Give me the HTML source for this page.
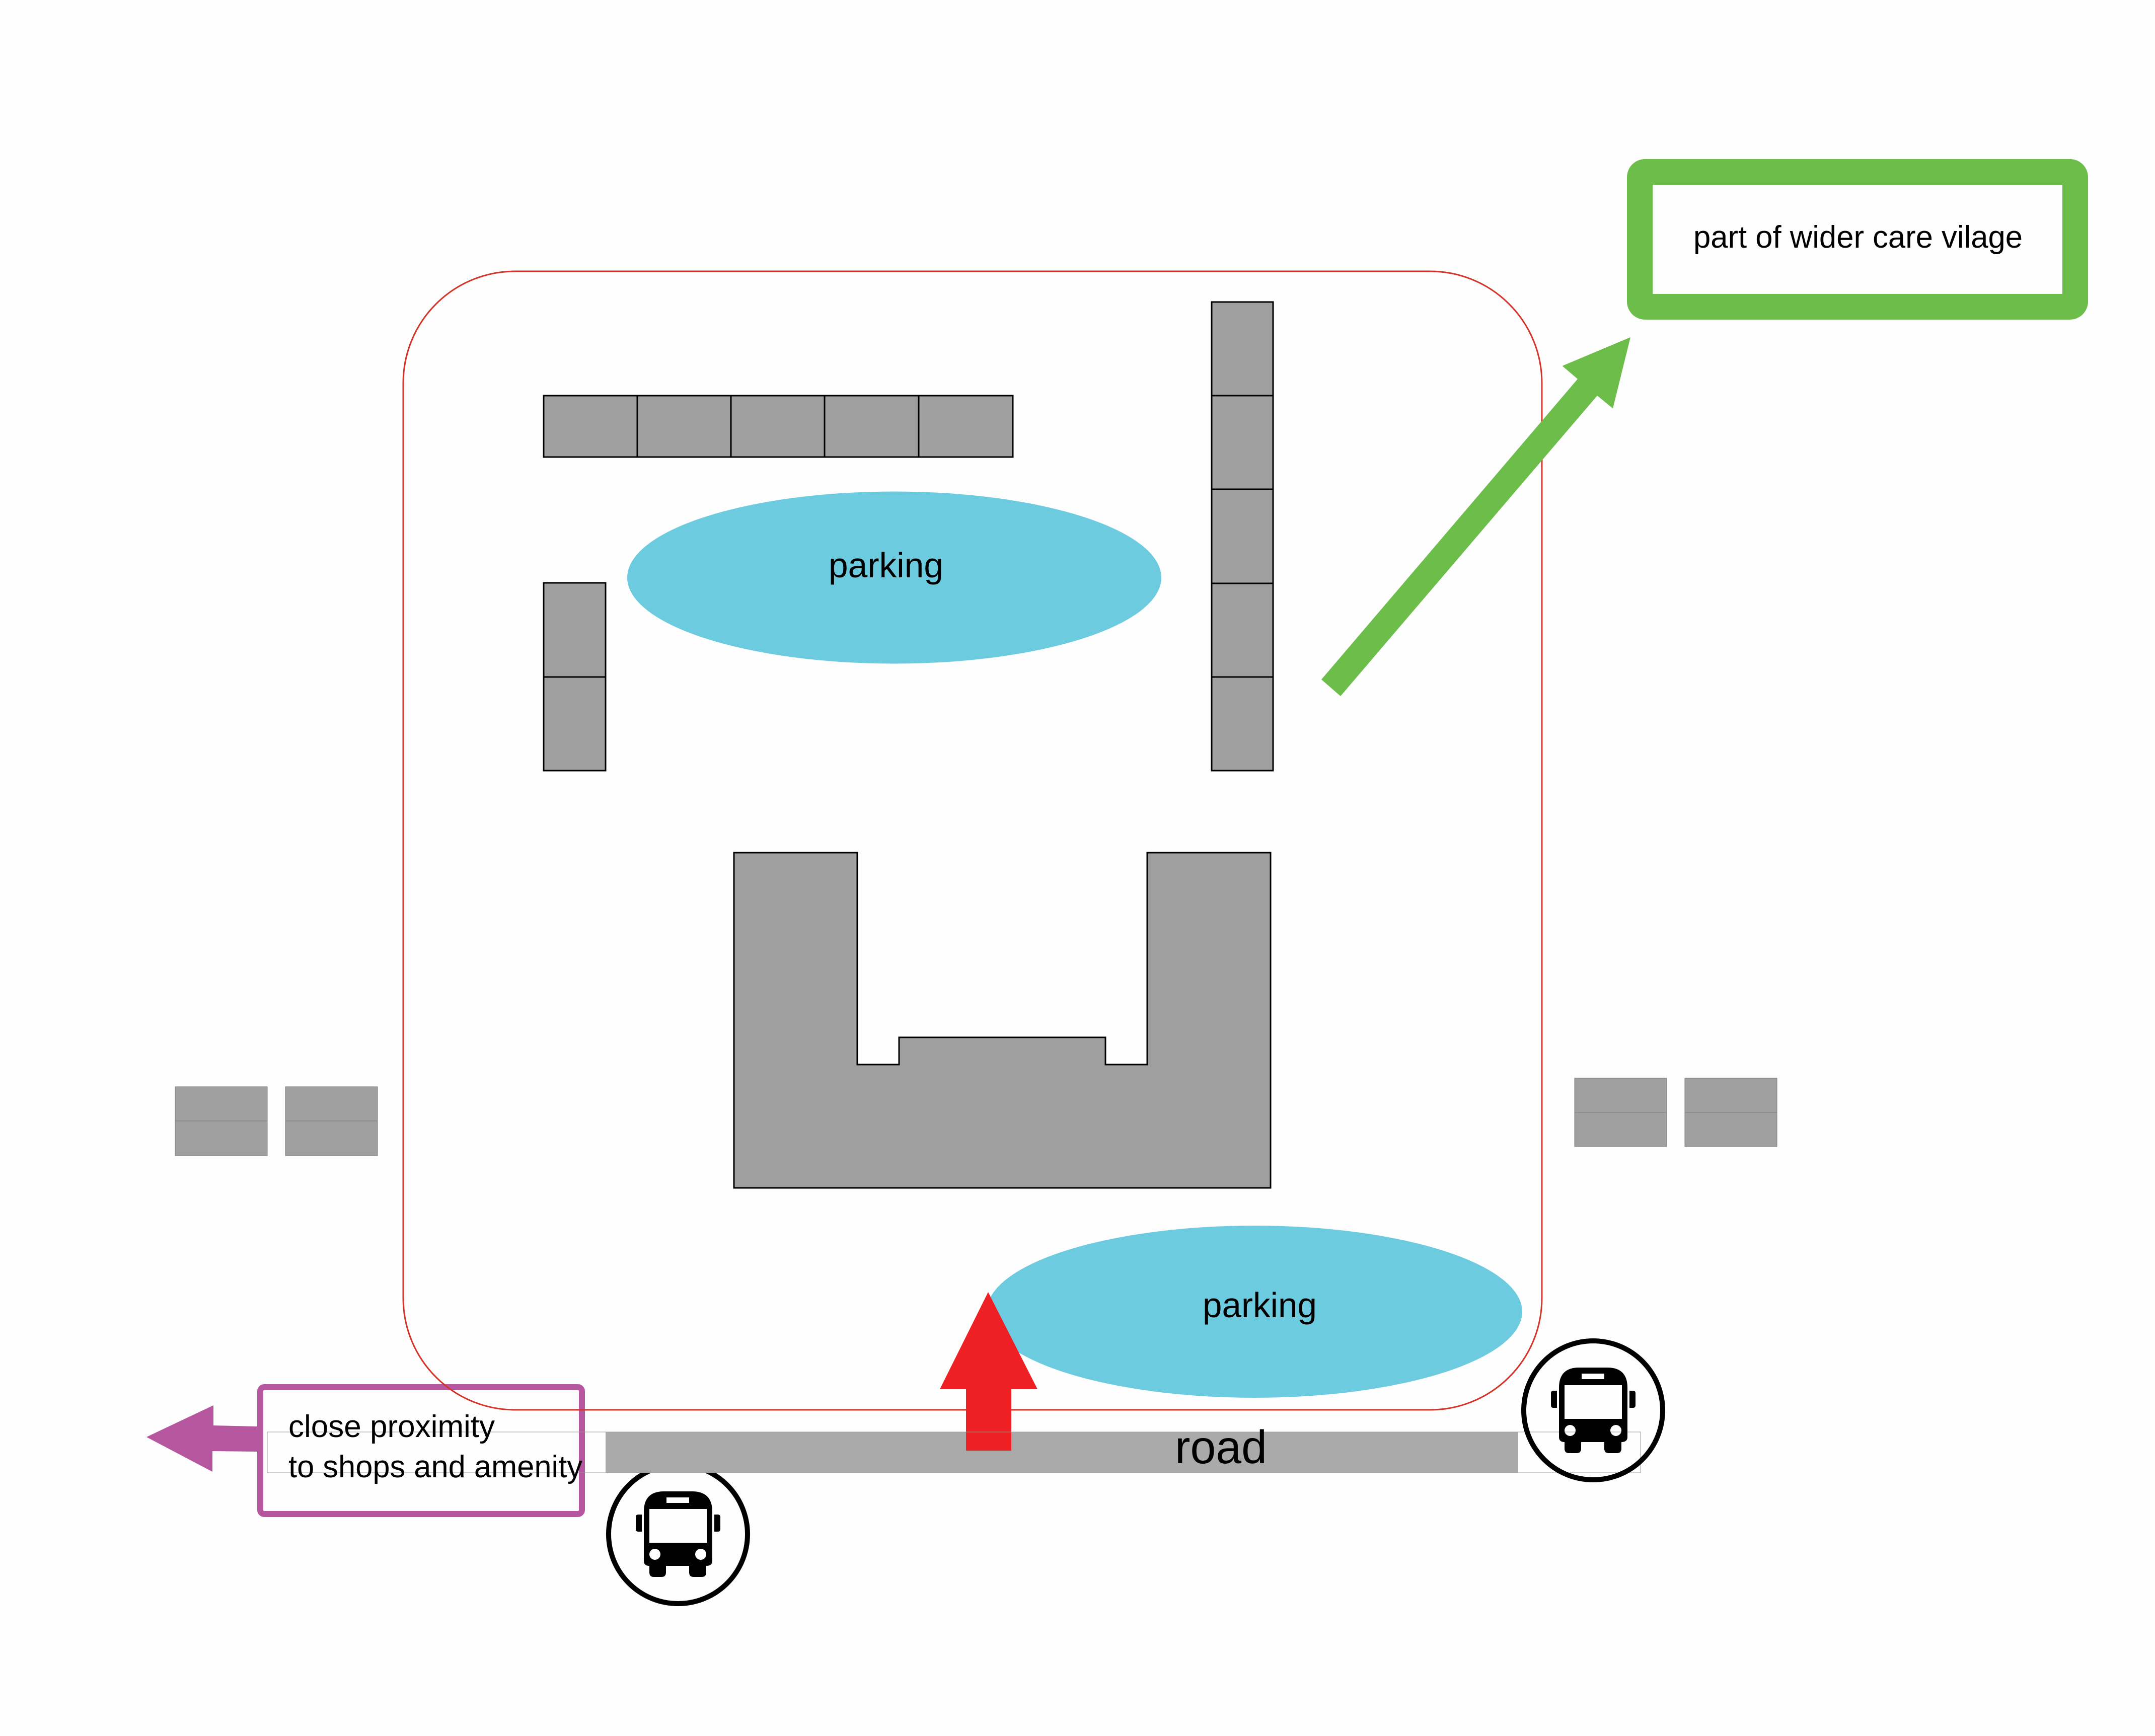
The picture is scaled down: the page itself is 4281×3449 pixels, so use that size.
<!DOCTYPE html>
<html lang="en">
<head>
<meta charset="utf-8">
<title>Site diagram</title>
<style>
html,body{margin:0;padding:0;background:#fefefe;}
svg{display:block;}
text{font-family:"Liberation Sans",sans-serif;fill:#000;}
</style>
</head>
<body>
<svg xmlns="http://www.w3.org/2000/svg" width="4281" height="3449" viewBox="0 0 4281 3449">
<defs>
<g id="bus">
<path fill="#000" fill-rule="evenodd" d="M-68 -45 Q-68 -85 -28 -85 L28 -85 Q68 -85 68 -45 L68 53 Q68 63 56 63 L56 76 Q56 85 47 85 L31 85 Q22 85 22 76 L22 63 L-24 63 L-24 76 Q-24 85 -33 85 L-48 85 Q-57 85 -57 76 L-57 63 Q-68 63 -68 53 Z M-57 -50 L-57 17 L57 17 L57 -50 Z M-23 -73 L-23 -62 L22 -62 L22 -73 Z M-57 40 A11 11 0 1 0 -35 40 A11 11 0 1 0 -57 40 Z M34 40 A11 11 0 1 0 56 40 A11 11 0 1 0 34 40 Z"/>
<path fill="#000" d="M-84 -34 Q-84 -39 -79 -39 L-72 -39 L-72 -5 L-79 -5 Q-84 -5 -84 -10 Z"/>
<path fill="#000" d="M72 -39 L79 -39 Q84 -39 84 -34 L84 -10 Q84 -5 79 -5 L72 -5 Z"/>
<circle cx="0" cy="0" r="138" fill="none" stroke="#000" stroke-width="10"/>
</g>
</defs>
<rect x="0" y="0" width="4281" height="3449" fill="#fefefe"/>

<!-- side buildings -->
<g fill="#9f9f9f" stroke="#7d7d7d" stroke-width="1">
<rect x="348" y="2159" width="183" height="137"/>
<line x1="348" y1="2227" x2="531" y2="2227"/>
<rect x="567" y="2159" width="183" height="137"/>
<line x1="567" y1="2227" x2="750" y2="2227"/>
<rect x="3128" y="2142" width="183" height="136"/>
<line x1="3128" y1="2210" x2="3311" y2="2210"/>
<rect x="3347" y="2142" width="183" height="136"/>
<line x1="3347" y1="2210" x2="3530" y2="2210"/>
</g>

<!-- parking ellipses -->
<ellipse cx="1776.5" cy="1147.5" rx="530.5" ry="171" fill="#6dcbdf"/>
<ellipse cx="2492" cy="2606" rx="532" ry="171" fill="#6dcbdf"/>
<text x="1646" y="1147" font-size="70" textLength="228" lengthAdjust="spacingAndGlyphs">parking</text>
<text x="2389" y="2617" font-size="70" textLength="227" lengthAdjust="spacingAndGlyphs">parking</text>

<!-- gray units -->
<g fill="#9f9f9f" stroke="#000" stroke-width="3">
<rect x="1080" y="786" width="932" height="122"/>
<line x1="1266" y1="786" x2="1266" y2="908"/>
<line x1="1452" y1="786" x2="1452" y2="908"/>
<line x1="1638" y1="786" x2="1638" y2="908"/>
<line x1="1825" y1="786" x2="1825" y2="908"/>
<rect x="1080" y="1158" width="123" height="373"/>
<line x1="1080" y1="1345" x2="1203" y2="1345"/>
<rect x="2407" y="600" width="122" height="931"/>
<line x1="2407" y1="786" x2="2529" y2="786"/>
<line x1="2407" y1="972" x2="2529" y2="972"/>
<line x1="2407" y1="1159" x2="2529" y2="1159"/>
<line x1="2407" y1="1345" x2="2529" y2="1345"/>
<polygon points="1458,1694 1703,1694 1703,2115 1786,2115 1786,2061 2196,2061 2196,2115 2279,2115 2279,1694 2524,1694 2524,2360 1458,2360"/>
</g>

<!-- bus 1 under the road -->
<use href="#bus" x="1347" y="3048"/>

<!-- road -->
<rect x="1203" y="2845" width="1813" height="81" fill="#aaaaaa"/>

<!-- purple box -->
<rect x="517" y="2756" width="639" height="252" rx="8" ry="8" fill="none" stroke="#b5569f" stroke-width="12"/>
<polygon points="291,2855 424,2792 424,2832 511,2834 511,2884 422,2883 422,2924" fill="#b5569f"/>

<!-- site outline -->
<rect x="801" y="539" width="2262" height="2262" rx="222" ry="222" fill="none" stroke="#d5342a" stroke-width="3"/>

<!-- red arrow -->
<polygon points="1963,2567 2061,2760 2009,2760 2009,2882 1919,2882 1919,2760 1867,2760" fill="#ee2024"/>

<!-- thin road outline -->
<rect x="531" y="2845" width="2728" height="81" fill="none" stroke="#999999" stroke-width="1"/>

<text x="2334" y="2907" font-size="93" textLength="183" lengthAdjust="spacingAndGlyphs">road</text>
<text x="573" y="2855" font-size="62" textLength="410" lengthAdjust="spacingAndGlyphs">close proximity</text>
<text x="573" y="2935" font-size="62" textLength="584" lengthAdjust="spacingAndGlyphs">to shops and amenity</text>

<!-- bus 2 -->
<use href="#bus" x="3165" y="2802"/>

<!-- green -->
<rect x="3232" y="316" width="916" height="319" rx="36" ry="36" fill="#6cbd4a"/>
<rect x="3283" y="367" width="814" height="217" fill="#fefefe"/>
<text x="3364" y="492" font-size="62" textLength="654" lengthAdjust="spacingAndGlyphs">part of wider care vilage</text>
<polygon points="2625,1350 3134,753 3103.5,727 3239,670 3204,811.5 3173,786 2663,1383" fill="#6cbd4a"/>
</svg>
</body>
</html>
